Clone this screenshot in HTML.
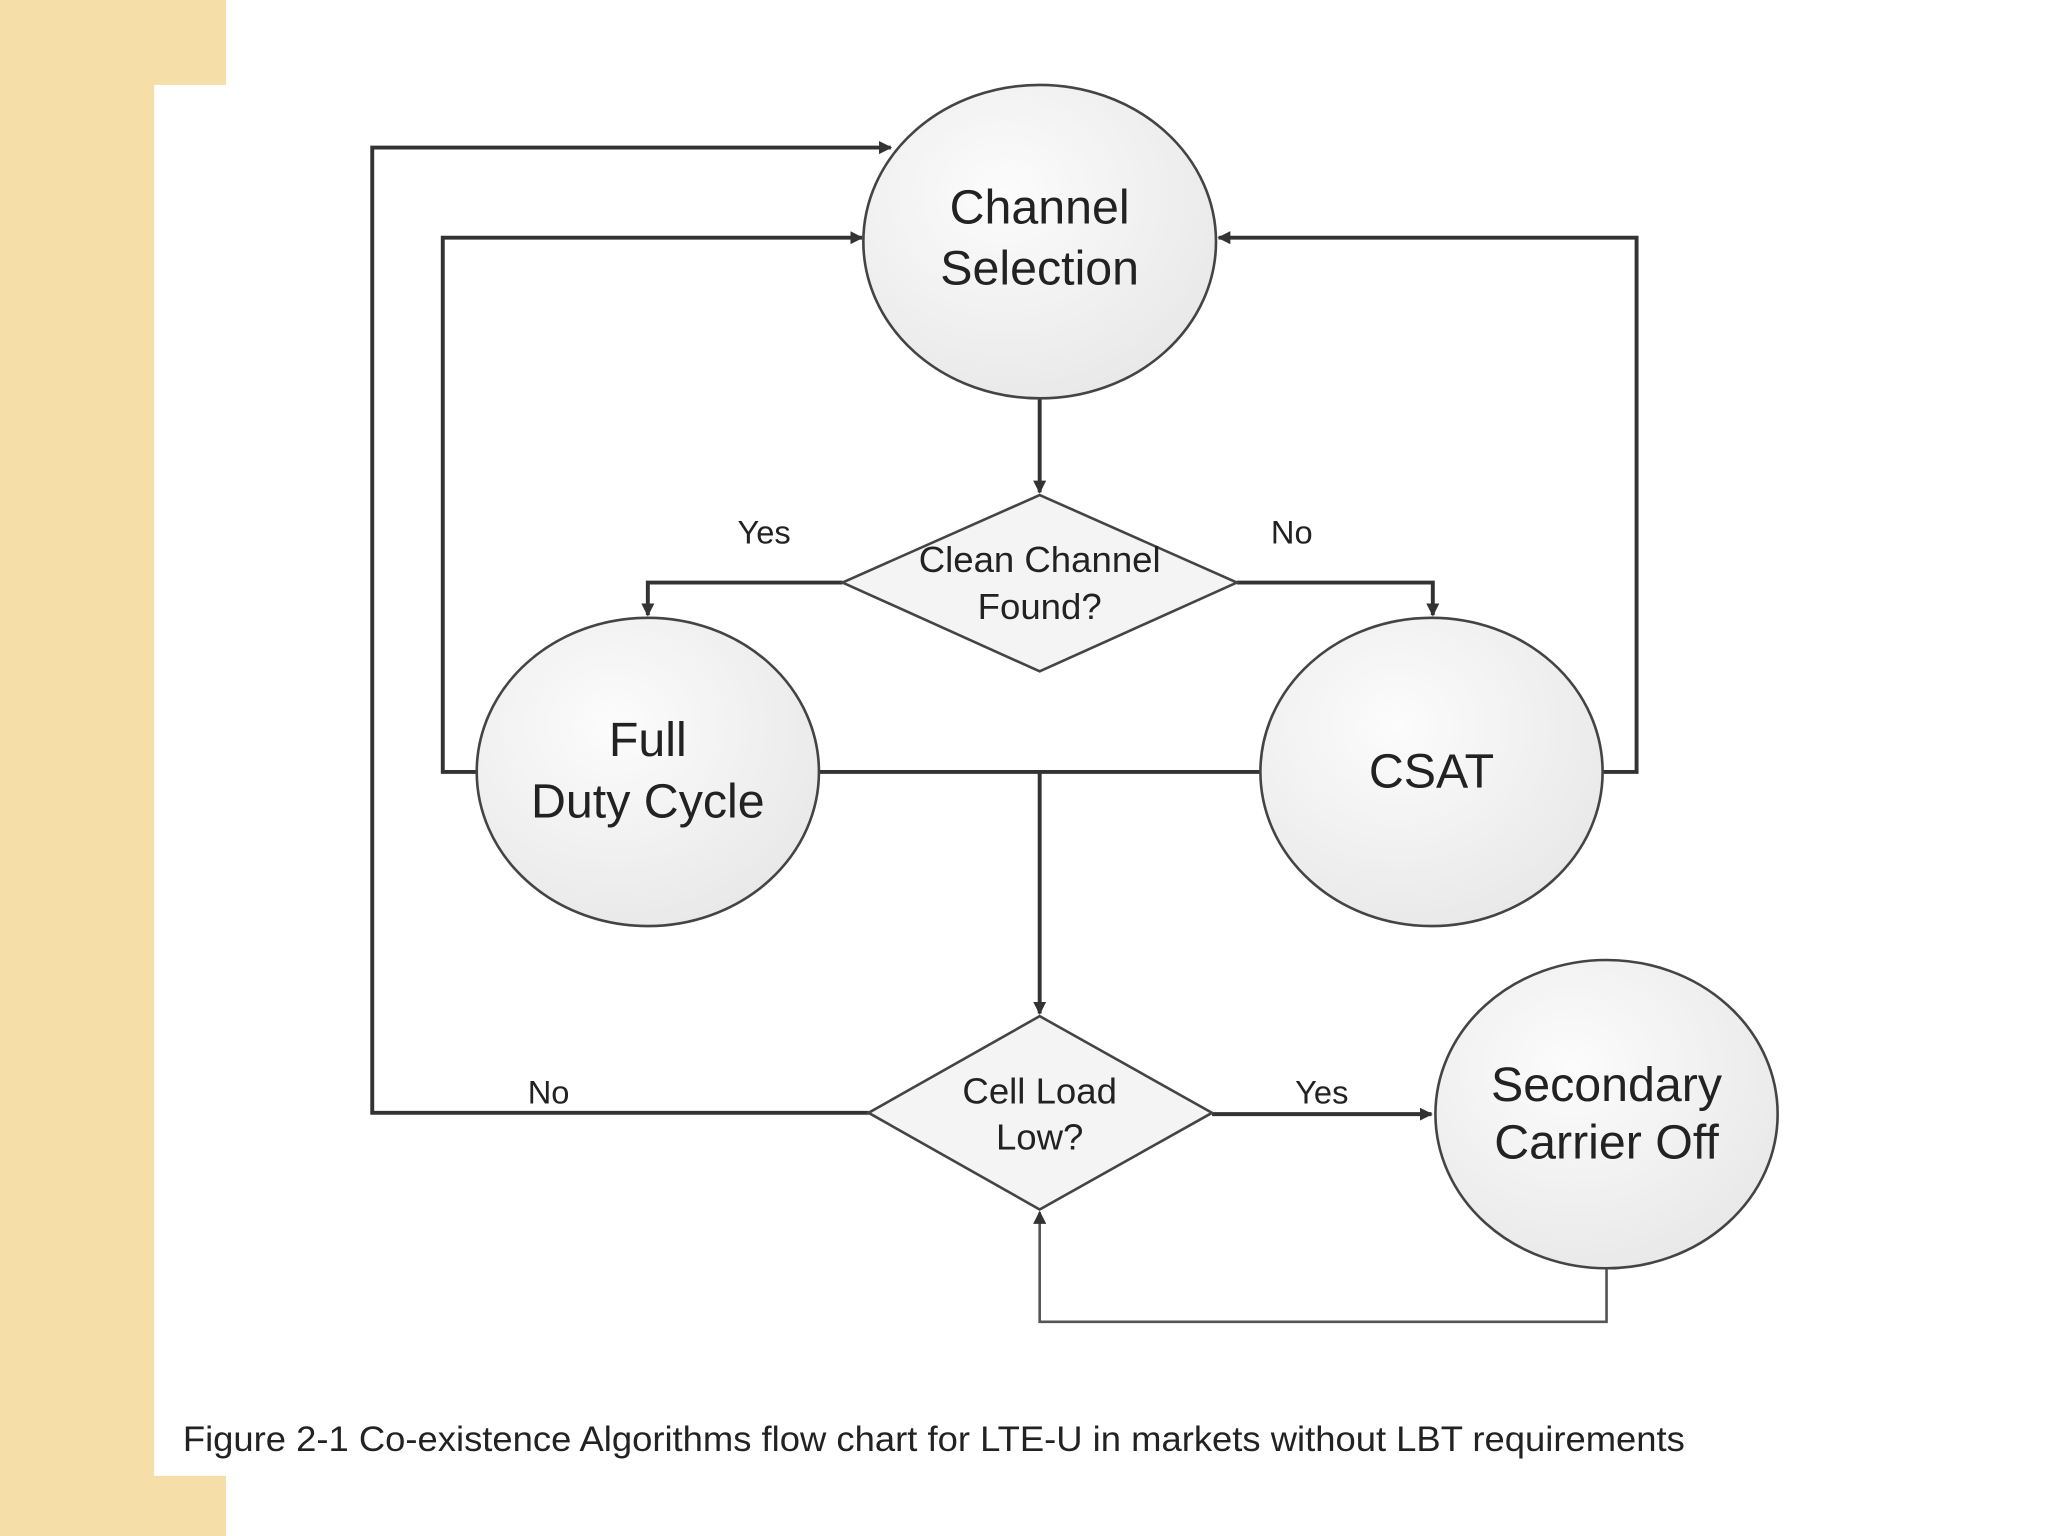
<!DOCTYPE html>
<html><head><meta charset="utf-8"><style>
html,body{margin:0;padding:0;background:#fff}
svg{display:block}
text{font-family:"Liberation Sans",sans-serif;fill:#222}
</style></head><body>
<svg width="2048" height="1536" viewBox="0 0 1568 1176" xmlns="http://www.w3.org/2000/svg">
<defs>
<radialGradient id="g" cx="0.4" cy="0.35" r="0.7"><stop offset="0" stop-color="#fcfcfc"/><stop offset="1" stop-color="#e8e8e8"/></radialGradient>
<marker id="a" markerWidth="10" markerHeight="10" refX="9" refY="5" orient="auto" markerUnits="userSpaceOnUse"><path d="M0,0 L10,5 L0,10 z" fill="#333"/></marker>
</defs>
<rect x="0" y="0" width="1568" height="1176" fill="#fff"/>
<path d="M0,0 H173 V65 H118 V1130 H173 V1176 H0 Z" fill="#f6dea8"/>
<g fill="none" stroke="#333" stroke-width="3">
<polyline points="665,852 285,852 285,113 682,113" marker-end="url(#a)"/>
<polyline points="365,591 339,591 339,182 660,182" marker-end="url(#a)"/>
<polyline points="1227,591 1253,591 1253,182 933,182" marker-end="url(#a)"/>
<line x1="796" y1="305" x2="796" y2="377" marker-end="url(#a)"/>
<polyline points="645,446 496,446 496,471" marker-end="url(#a)"/>
<polyline points="947,446 1097,446 1097,471" marker-end="url(#a)"/>
<line x1="627" y1="591" x2="965" y2="591"/>
<line x1="796" y1="591" x2="796" y2="776" marker-end="url(#a)"/>
<line x1="928" y1="853" x2="1096" y2="853" marker-end="url(#a)"/>
</g>
<polyline points="1230,971 1230,1012 796,1012 796,928" fill="none" stroke="#555" stroke-width="2" marker-end="url(#a)"/>
<g stroke="#444" stroke-width="2" fill="url(#g)">
<ellipse cx="796" cy="185" rx="135" ry="120"/>
<ellipse cx="496" cy="591" rx="131" ry="118"/>
<ellipse cx="1096" cy="591" rx="131" ry="118"/>
<ellipse cx="1230" cy="853" rx="131" ry="118"/>
<polygon points="645,446 796,379 947,446 796,514" fill="#f4f4f4"/>
<polygon points="665,852 796,778 928,852 796,926" fill="#f4f4f4"/>
</g>
<g text-anchor="middle" font-size="37">
<text x="796" y="171">Channel</text><text x="796" y="218">Selection</text>
<text x="496" y="579">Full</text><text x="496" y="626">Duty Cycle</text>
<text x="1096" y="603">CSAT</text>
<text x="1230" y="843">Secondary</text><text x="1230" y="887">Carrier Off</text>
</g>
<g text-anchor="middle" font-size="28">
<text x="796" y="438">Clean Channel</text><text x="796" y="474">Found?</text>
<text x="796" y="845">Cell Load</text><text x="796" y="880">Low?</text>
</g>
<g text-anchor="middle" font-size="25">
<text x="585" y="416">Yes</text><text x="989" y="416">No</text>
<text x="420" y="845">No</text><text x="1012" y="845">Yes</text>
</g>
<text x="140" y="1111" font-size="27" fill="#222" textLength="1150" lengthAdjust="spacingAndGlyphs">Figure 2-1 Co-existence Algorithms flow chart for LTE-U in markets without LBT requirements</text>
</svg>
</body></html>
